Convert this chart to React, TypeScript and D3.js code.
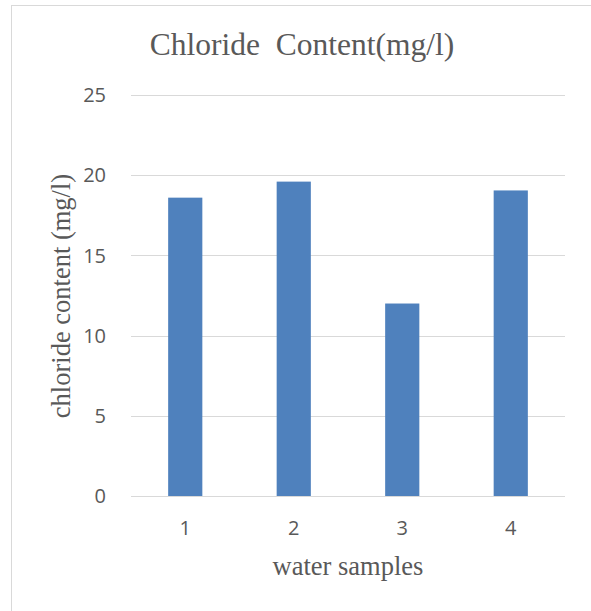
import React from "react";
import * as d3 from "d3";

const categories = ["1", "2", "3", "4"];
const values = [18.6, 19.6, 12.0, 19.05];
const yTicks = [0, 5, 10, 15, 20, 25];

const W = 591;
const H = 611;
const plot = { left: 131, right: 565, top: 95, bottom: 496 };

export default function App() {
  const x = d3
    .scaleBand<string>()
    .domain(categories)
    .range([plot.left, plot.right])
    .paddingInner(0.685)
    .paddingOuter(0.3425);
  const y = d3.scaleLinear().domain([0, 25]).range([plot.bottom, plot.top]);

  const sans = "'Open Sans', 'Liberation Sans', sans-serif";
  const serif = "'Liberation Serif', 'Times New Roman', serif";

  return (
    <svg
      width={W}
      height={H}
      style={{ position: "absolute", left: 0, top: 0, background: "#fff" }}
    >
      <rect x={11.5} y={5.5} width={W} height={H} fill="none" stroke="#d9d9d9" strokeWidth={1} />
      <text x={302} y={55} textAnchor="middle" fontFamily={serif} fontSize={31.5} fill="#595959">
        Chloride{"\u00a0\u00a0"}Content(mg/l)
      </text>
      {yTicks.map((t) => (
        <g key={t}>
          <line
            x1={plot.left}
            x2={plot.right}
            y1={Math.round(y(t)) + 0.5}
            y2={Math.round(y(t)) + 0.5}
            stroke="#d9d9d9"
            strokeWidth={1.2}
          />
          <text
            x={106}
            y={y(t)}
            dy="0.36em"
            textAnchor="end"
            fontFamily={sans}
            fontSize={20}
            fill="#595959"
          >
            {t}
          </text>
        </g>
      ))}
      {categories.map((c, i) => (
        <g key={c}>
          <rect
            x={x(c)}
            y={y(values[i])}
            width={x.bandwidth()}
            height={y(0) - y(values[i])}
            fill="#4f81bd"
          />
          <text
            x={(x(c) as number) + x.bandwidth() / 2}
            y={535}
            textAnchor="middle"
            fontFamily={sans}
            fontSize={20}
            fill="#595959"
          >
            {c}
          </text>
        </g>
      ))}
      <text x={348} y={575} textAnchor="middle" fontFamily={serif} fontSize={26.5} fill="#595959">
        water samples
      </text>
      <text
        transform={`translate(70,296) rotate(-90)`}
        textAnchor="middle"
        fontFamily={serif}
        fontSize={26.5}
        fill="#595959"
      >
        chloride content (mg/l)
      </text>
    </svg>
  );
}
